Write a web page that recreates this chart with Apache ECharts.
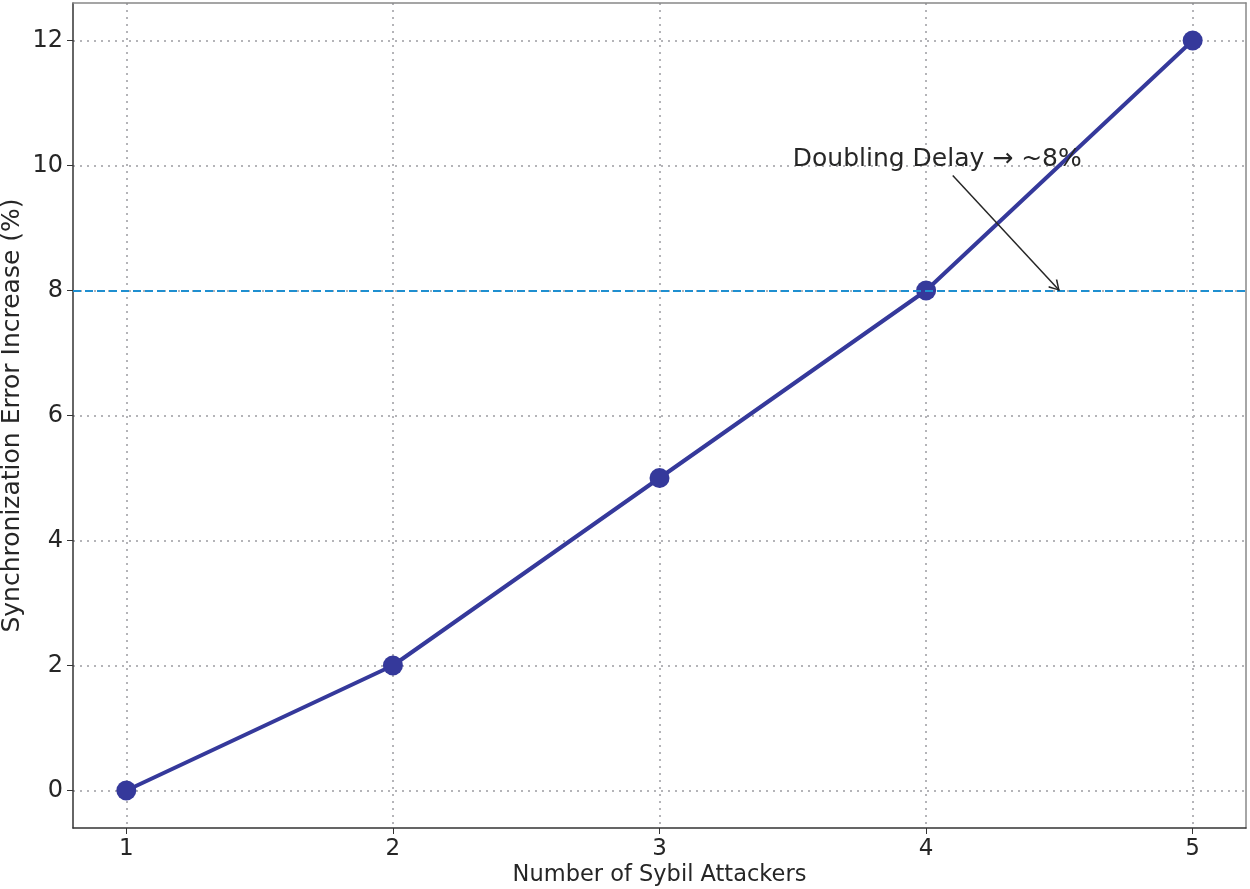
<!DOCTYPE html>
<html>
<head>
    <meta charset="UTF-8">
    <title>Sybil Attackers</title>
    <script src="https://cdn.jsdelivr.net/npm/echarts@6/dist/echarts.min.js"></script>
    <style>
        body{ margin:0; background:#fff; }
        #main{ width:1250px; height:889px; }
    </style>
</head>
<body>
<div id="main"></div>
<script>
    // data
    const attackers = [1, 2, 3, 4, 5];
    const errorIncrease = [0, 2, 5, 8, 12];
    const refLevel = 8;
    const noteText = 'Doubling Delay \u2192 ~8%';
    const notePos = [3.5, 10.1];    // text anchor (data coords)
    const arrowFrom = [4.1, 9.84];
    const arrowTo = [4.5, 8];

    const font = '"DejaVu Sans", sans-serif';
    const gridLine = {
        show: true, showMinLine: false, showMaxLine: false,
        lineStyle: { color: '#b4b4b8', width: 2, type: [2, 5] }
    };
    // open arrow head like matplotlib "->"
    const openHead = 'path://M5,0 L10,9 L9,10 L5,2.4 L1,10 L0,9 Z';

    let chart = echarts.init(document.getElementById('main'));

    let option = {
        animation: false,
        grid: { left: 73, right: 4, top: 3, bottom: 61, outerBoundsMode: 'none' },
        xAxis: [{
            type: 'value', min: 0.8, max: 5.2, splitNumber: 4,
            name: 'Number of Sybil Attackers', nameLocation: 'middle', nameGap: 36,
            nameMoveOverlap: false,
            nameTextStyle: { fontFamily: font, fontSize: 22.5, color: '#262626' },
            axisLine: { onZero: false, lineStyle: { color: '#333', width: 1.5 } },
            axisTick: { show: true, length: 6, lineStyle: { color: '#333' } },
            axisLabel: {
                fontFamily: font, fontSize: 23, color: '#262626', margin: 10,
                showMinLabel: false, showMaxLabel: false,
                formatter: v => Number.isInteger(v) ? String(v) : ''
            },
            splitLine: gridLine
        }, {
            type: 'value', position: 'top', min: 0.8, max: 5.2,
            axisLine: { onZero: false, lineStyle: { color: '#888', width: 1.5 } },
            axisTick: { show: false }, axisLabel: { show: false }, splitLine: { show: false }
        }],
        yAxis: [{
            type: 'value', min: -0.6, max: 12.6, splitNumber: 6,
            name: 'Synchronization Error Increase (%)', nameLocation: 'middle', nameGap: 48,
            nameMoveOverlap: false,
            nameTextStyle: { fontFamily: font, fontSize: 25, color: '#262626' },
            axisLine: { show: true, onZero: false, lineStyle: { color: '#333', width: 1.5 } },
            axisTick: { show: true, length: 6, lineStyle: { color: '#333' } },
            axisLabel: {
                fontFamily: font, fontSize: 24, color: '#262626', margin: 10,
                showMinLabel: false, showMaxLabel: false,
                formatter: v => Number.isInteger(v) ? String(v) : ''
            },
            splitLine: gridLine
        }, {
            type: 'value', position: 'right', min: -0.6, max: 12.6,
            axisLine: { show: true, onZero: false, lineStyle: { color: '#888', width: 1.5 } },
            axisTick: { show: false }, axisLabel: { show: false }, splitLine: { show: false }
        }],
        series: [{
            type: 'line',
            data: attackers.map((x, i) => [x, errorIncrease[i]]),
            symbol: 'circle', symbolSize: 20,
            lineStyle: { color: '#35399b', width: 4 },
            itemStyle: { color: '#35399b' },
            z: 3,
            markLine: {
                silent: true, symbol: 'none', label: { show: false },
                data: [
                    { yAxis: refLevel, lineStyle: { color: '#1f8fd0', width: 2, type: [8, 4] } },
                    [
                        { coord: arrowFrom, symbol: 'none', lineStyle: { color: '#262626', width: 1.5, type: 'solid' } },
                        { coord: arrowTo, symbol: openHead, symbolSize: [12, 11], symbolOffset: [0, 5] }
                    ]
                ]
            }
        }]
    };

    chart.setOption(option);

    // annotation text placed in data coordinates
    let p = chart.convertToPixel({ xAxisIndex: 0, yAxisIndex: 0 }, notePos);
    chart.setOption({
        graphic: [{
            type: 'text', x: p[0], y: p[1], z: 10,
            style: {
                text: noteText, fontFamily: font, fontSize: 25, fill: '#262626',
                textAlign: 'left', textVerticalAlign: 'middle'
            }
        }]
    });
</script>
</body>
</html>
